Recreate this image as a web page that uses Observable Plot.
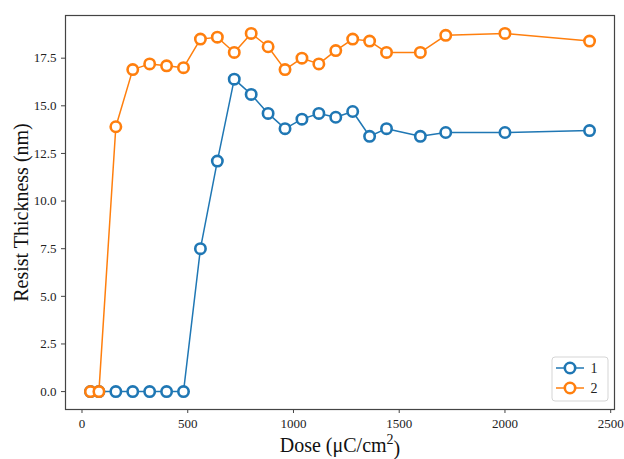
<!DOCTYPE html>
<html>
<head>
<meta charset="utf-8">
<script src="https://cdn.jsdelivr.net/npm/d3@7"></script>
<script src="https://cdn.jsdelivr.net/npm/@observablehq/plot@0.6"></script>
<style>
  html, body { margin: 0; padding: 0; background: #fff; }
  #chart { position: relative; width: 624px; height: 459px; }
</style>
</head>
<body>
<div id="chart"></div>
<script>
const dose1 = [40, 80, 160, 240, 320, 400, 480, 560, 640, 720, 800, 880, 960, 1040, 1120, 1200, 1280, 1360, 1440, 1600, 1720, 2000, 2400];
const thick1 = [0, 0, 0, 0, 0, 0, 0, 7.5, 12.1, 16.4, 15.6, 14.6, 13.8, 14.3, 14.6, 14.4, 14.7, 13.4, 13.8, 13.4, 13.6, 13.6, 13.7];
const dose2 = [40, 80, 160, 240, 320, 400, 480, 560, 640, 720, 800, 880, 960, 1040, 1120, 1200, 1280, 1360, 1440, 1600, 1720, 2000, 2400];
const thick2 = [0, 0, 13.9, 16.9, 17.2, 17.1, 17.0, 18.5, 18.6, 17.8, 18.8, 18.1, 16.9, 17.5, 17.2, 17.9, 18.5, 18.4, 17.8, 17.8, 18.7, 18.8, 18.4];
const seriesNames = ["1", "2"];
const seriesColors = ["#1f77b4", "#ff7f0e"];
const xTicks = [0, 500, 1000, 1500, 2000, 2500];
const yTicks = [0, 2.5, 5, 7.5, 10, 12.5, 15, 17.5];

const rows = [
  ...dose1.map((d, i) => ({dose: d, thick: thick1[i], s: seriesNames[0]})),
  ...dose2.map((d, i) => ({dose: d, thick: thick2[i], s: seriesNames[1]}))
];

const plot = Plot.plot({
  width: 624,
  height: 459,
  marginLeft: 65,
  marginRight: 10,
  marginTop: 15,
  marginBottom: 50,
  style: {fontFamily: "'Liberation Serif', 'Times New Roman', serif", fontSize: "13px", color: "#222", background: "#fff"},
  x: {domain: [-78, 2518], ticks: xTicks, tickFormat: d3.format("d"), label: "Dose (μC/cm2)", labelAnchor: "center", labelArrow: "none", labelOffset: 42, tickSize: 4},
  y: {domain: [-0.94, 19.74], ticks: yTicks, tickFormat: d3.format(".1f"), label: "Resist Thickness (nm)", labelAnchor: "center", labelArrow: "none", labelOffset: 52, tickSize: 4},
  color: {domain: seriesNames, range: seriesColors},
  marks: [
    Plot.frame({stroke: "#444", strokeWidth: 1.2}),
    Plot.line(rows, {x: "dose", y: "thick", z: "s", stroke: "s", strokeWidth: 1.5}),
    Plot.dot(rows, {x: "dose", y: "thick", stroke: "s", fill: "white", r: 5.2, strokeWidth: 2.6})
  ]
});

document.getElementById("chart").appendChild(plot);

// style axis labels
const svg = d3.select(plot);
svg.selectAll("g[aria-label='x-axis label'] text, g[aria-label='y-axis label'] text")
  .style("font-size", "20px").attr("fill", "#111");
svg.selectAll("g[aria-label='x-axis tick label'] text, g[aria-label='y-axis tick label'] text").attr("fill", "#222");
svg.selectAll("g[aria-label='x-axis tick'] path, g[aria-label='y-axis tick'] path").attr("stroke", "#444");

// superscript in x label
const xl = svg.select("g[aria-label='x-axis label'] text");
if (!xl.empty()) {
  xl.text(null);
  xl.append("tspan").text("Dose (μC/cm");
  xl.append("tspan").text("2").attr("dy", "-0.55em").style("font-size", "14px");
  xl.append("tspan").text(")").attr("dy", "0.55em");
}

// legend (lower right inside frame)
const W = 624, H = 459, mR = 10, mB = 50;
const lg = svg.append("g").attr("transform", `translate(${W - mR - 62},${H - mB - 52})`);
lg.append("rect").attr("width", 56).attr("height", 44).attr("rx", 3)
  .attr("fill", "white").attr("stroke", "#d5d5d5").attr("stroke-width", 1);
seriesNames.forEach((name, i) => {
  const y = 11 + i * 20;
  lg.append("line").attr("x1", 4).attr("x2", 32).attr("y1", y).attr("y2", y)
    .attr("stroke", seriesColors[i]).attr("stroke-width", 1.5);
  lg.append("circle").attr("cx", 18).attr("cy", y).attr("r", 5.2)
    .attr("fill", "white").attr("stroke", seriesColors[i]).attr("stroke-width", 2.6);
  lg.append("text").attr("x", 42).attr("y", y).attr("dy", "0.35em")
    .style("font-size", "14px").attr("fill", "#222").text(name);
});
</script>
</body>
</html>
